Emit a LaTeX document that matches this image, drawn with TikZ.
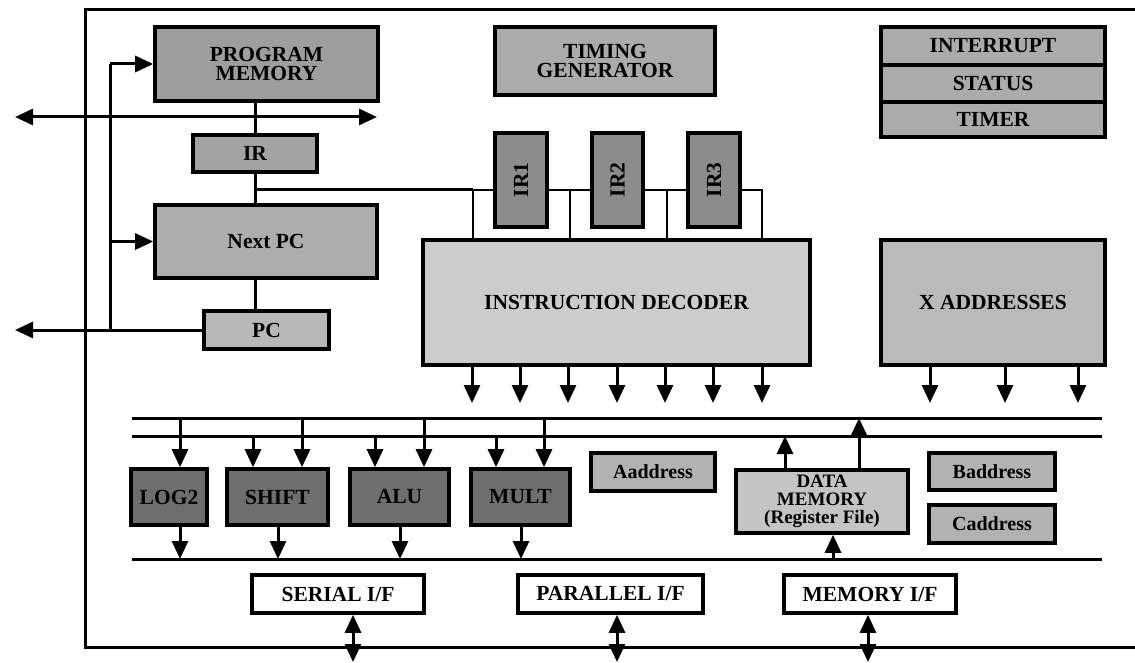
\documentclass[tikz,border=0pt]{standalone}
\usepackage{fontspec}
\setmainfont{Liberation Serif}
\usetikzlibrary{arrows.meta}

\newcommand\blkfont{\fontsize{21.5}{19.5}\selectfont\bfseries}
\newcommand\smfont{\fontsize{20}{17}\selectfont\bfseries}
\newcommand\dmfont{\fontsize{19}{18}\selectfont\bfseries}

\definecolor{gPM}{gray}{0.62}
\definecolor{gIR}{gray}{0.64}
\definecolor{gNPC}{gray}{0.68}
\definecolor{gPC}{gray}{0.72}
\definecolor{gTG}{gray}{0.67}
\definecolor{gIRn}{gray}{0.55}
\definecolor{gINT}{gray}{0.67}
\definecolor{gDEC}{gray}{0.80}
\definecolor{gXA}{gray}{0.73}
\definecolor{gUNIT}{gray}{0.43}
\definecolor{gADR}{gray}{0.70}
\definecolor{gDM}{gray}{0.77}

\tikzset{
  blk/.style={draw, line width=3.6pt, rectangle, inner sep=0pt, align=center, font=\blkfont},
  wire/.style={line width=3pt},
  thinwire/.style={line width=2.2pt},
  tip/.tip={Triangle[width=16pt,length=18pt]},
  arr/.style={wire, -tip},
  darr/.style={wire, tip-tip},
}

\begin{document}
\begin{tikzpicture}[x=1pt,y=-1pt]
\useasboundingbox (0,0) rectangle (1135,663);

% chip outline (open on the right)
\draw[wire] (1135,10) -- (85,10) -- (85,647) -- (1135,647);

% ---------- program sequencing ----------
\node[blk, fill=gPM, minimum width=223, minimum height=74] (pm) at (266.5,64) {PROGRAM\\MEMORY};
\node[blk, fill=gIR, minimum width=124, minimum height=37] (ir) at (255,153.5) {IR};
\node[blk, fill=gNPC, minimum width=222, minimum height=73] (npc) at (266,241.5) {Next PC};
\node[blk, fill=gPC, minimum width=125, minimum height=38] (pc) at (266.5,330) {PC};

\draw[wire] (ir.north) -- (ir.north |- pm.south);
\draw[wire] (ir.south) -- (ir.south |- npc.north);
\draw[wire] (ir.south |- npc.south) -- (ir.south |- pc.north);

% address feedback bus
\coordinate (ltop) at (110,64);
\coordinate (lbot) at (110,330);
\draw[wire] (lbot) -- (ltop);
\draw[arr] (ltop) -- (pm.west);
\draw[arr] (npc.west -| ltop) -- (npc.west);
\coordinate (pcout) at (15,330);
\draw[arr] (pc.west) -- (pcout);

% external instruction bus
\coordinate (ibl) at (15,117);
\coordinate (ibr) at (377,117);
\draw[darr] (ibl) -- (ibr);

% ---------- timing / control ----------
\node[blk, fill=gTG, minimum width=220, minimum height=68] (tg) at (605,61) {TIMING\\GENERATOR};

\node[blk, fill=gINT, minimum width=224, minimum height=38] (int) at (993,46) {INTERRUPT};
\node[blk, fill=gINT, minimum width=224, minimum height=37] (stat) at (993,83.5) {STATUS};
\node[blk, fill=gINT, minimum width=224, minimum height=35] (tim) at (993,119.5) {TIMER};

% ---------- decoder ----------
\node[blk, fill=gDEC, minimum width=387, minimum height=125] (dec) at (616.5,302.5) {INSTRUCTION DECODER};
\node[blk, fill=gXA, minimum width=224, minimum height=125] (xa) at (993,302.5) {X ADDRESSES};

% instruction pipeline taps
\coordinate (tap) at (ir.south |- 0,190);
\coordinate (t1) at (473,190);
\coordinate (t2) at (570,190);
\coordinate (t3) at (667,190);
\coordinate (t4) at (762,190);
\draw[wire] (tap) -- (t1);
\draw[thinwire] (t1) -- (t4) -- (t4 |- dec.north);
\foreach \t in {t1,t2,t3} \draw[thinwire] (\t) -- (\t |- dec.north);

\node[blk, fill=gIRn, minimum width=52, minimum height=94] (ir1) at (521,180) {\rotatebox{90}{IR1}};
\node[blk, fill=gIRn, minimum width=51, minimum height=94] (ir2) at (617.5,180) {\rotatebox{90}{IR2}};
\node[blk, fill=gIRn, minimum width=52, minimum height=94] (ir3) at (714,180) {\rotatebox{90}{IR3}};

% decoder and address outputs
\foreach \x in {472,520,568,617,665,713,762}
  \draw[arr] (\x,0 |- dec.south) -- (\x,403);
\foreach \x in {930,1005,1078}
  \draw[arr] (\x,0 |- xa.south) -- (\x,403);

% ---------- data buses ----------
\coordinate (bAl) at (132,418);  \coordinate (bAr) at (1102,418);
\coordinate (bBl) at (132,436);  \coordinate (bBr) at (1102,436);
\coordinate (bCl) at (132,559);  \coordinate (bCr) at (1102,559);
\draw[wire] (bAl) -- (bAr);
\draw[wire] (bBl) -- (bBr);
\draw[wire] (bCl) -- (bCr);

% execution units
\node[blk, fill=gUNIT, minimum width=76, minimum height=56] (log) at (169,497) {LOG2};
\node[blk, fill=gUNIT, minimum width=101, minimum height=56] (shf) at (277.5,497) {SHIFT};
\node[blk, fill=gUNIT, minimum width=99, minimum height=56] (alu) at (399.5,497) {ALU};
\node[blk, fill=gUNIT, minimum width=99, minimum height=56] (mul) at (520.5,497) {MULT};

\draw[arr] (180,418) -- (180,0 |- log.north);
\draw[arr] (253,436) -- (253,0 |- shf.north);
\draw[arr] (302,418) -- (302,0 |- shf.north);
\draw[arr] (375,436) -- (375,0 |- alu.north);
\draw[arr] (424,418) -- (424,0 |- alu.north);
\draw[arr] (496,436) -- (496,0 |- mul.north);
\draw[arr] (544,418) -- (544,0 |- mul.north);

\draw[arr] (180,0 |- log.south) -- (180,559);
\draw[arr] (278,0 |- shf.south) -- (278,559);
\draw[arr] (400,0 |- alu.south) -- (400,559);
\draw[arr] (521,0 |- mul.south) -- (521,559);

% address registers and data memory
\node[blk, fill=gADR, minimum width=124, minimum height=38, font=\smfont] (aad) at (653,472) {Aaddress};
\node[blk, fill=gADR, minimum width=126, minimum height=37, font=\smfont] (bad) at (992,471.5) {Baddress};
\node[blk, fill=gADR, minimum width=126, minimum height=38, font=\smfont] (cad) at (992,524) {Caddress};
\node[blk, fill=gDM, minimum width=172, minimum height=63, font=\dmfont] (dm) at (822,501.5) {DATA\\MEMORY\\(Register File)};

\draw[arr] (785,0 |- dm.north) -- (785,436);
\draw[arr] (859,0 |- dm.north) -- (859,418);
\draw[arr] (833,559) -- (833,0 |- dm.south);

% ---------- external interfaces ----------
\node[blk, fill=white, minimum width=172, minimum height=38] (ser) at (338,594) {SERIAL I/F};
\node[blk, fill=white, minimum width=185, minimum height=38] (par) at (610.5,594) {PARALLEL I/F};
\node[blk, fill=white, minimum width=172, minimum height=38] (mem) at (870,594) {MEMORY I/F};

\coordinate (serx) at (353,662);
\coordinate (parx) at (617,662);
\coordinate (memx) at (868,662);
\draw[darr] (serx |- ser.south) -- (serx);
\draw[darr] (parx |- par.south) -- (parx);
\draw[darr] (memx |- mem.south) -- (memx);
\end{tikzpicture}
\end{document}
